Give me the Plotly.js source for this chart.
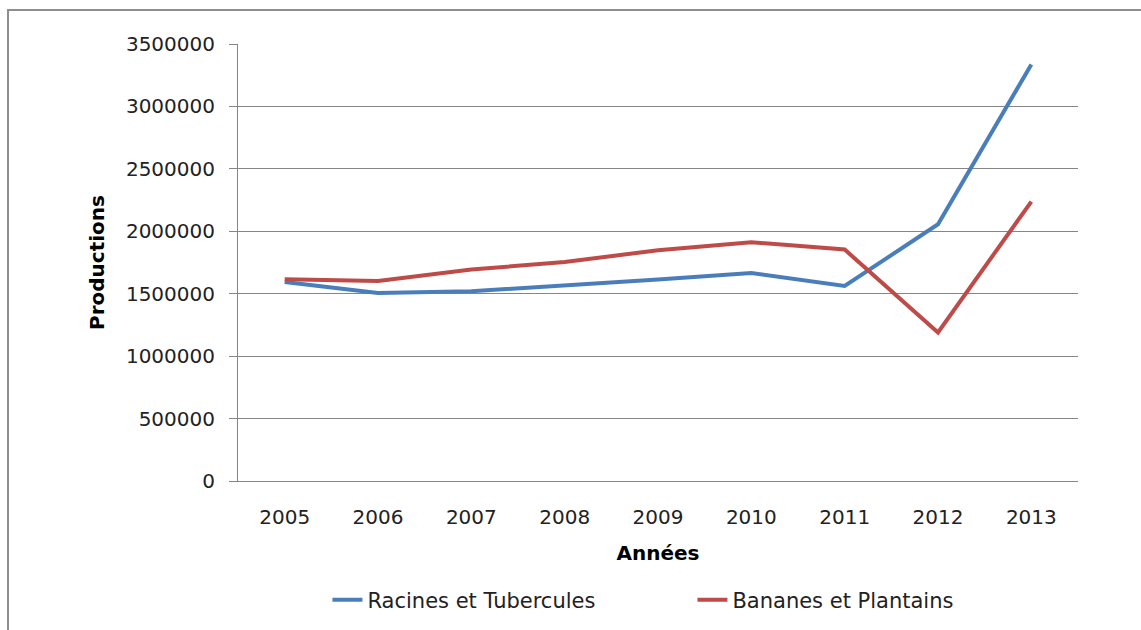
<!DOCTYPE html>
<html>
<head>
<meta charset="utf-8">
<script src="https://cdn.plot.ly/plotly-3.0.1.min.js"></script>
<style>
  html, body { margin: 0; padding: 0; background: #fff; }
  #wrap { position: relative; width: 1141px; height: 630px; }
  #plot { position: absolute; left: 0; top: 0; width: 1141px; height: 630px; }
  /* cadre gris du graphique Excel (haut et gauche seulement) */
  #cadre {
    position: absolute; left: 7px; top: 9px; width: 1140px; height: 630px;
    border-top: 2px solid #8e8e8e; border-left: 2px solid #8e8e8e;
    pointer-events: none;
  }
</style>
</head>
<body>
<div id="wrap">
  <div id="plot"></div>
  <div id="cadre"></div>
</div>
<script>
// données
const annees = ['2005', '2006', '2007', '2008', '2009', '2010', '2011', '2012', '2013'];
const racinesTubercules = [1594000, 1506000, 1520000, 1565000, 1614000, 1666000, 1562000, 2056000, 3336000];
const bananesPlantains = [1616000, 1602000, 1694000, 1754000, 1848000, 1912000, 1854000, 1190000, 2238000];
const ticksY = [0, 500000, 1000000, 1500000, 2000000, 2500000, 3000000, 3500000];

const police = 'DejaVu Sans, Verdana, sans-serif';
const gris = '#868686';

function initGraphique() {
    const trace1 = {
        type: 'scatter',
        mode: 'lines',
        x: annees,
        y: racinesTubercules,
        name: 'Racines et Tubercules',
        line: { color: '#4a7ebb', width: 4 }
    };

    const trace2 = {
        type: 'scatter',
        mode: 'lines',
        x: annees,
        y: bananesPlantains,
        name: 'Bananes et Plantains',
        line: { color: '#be4b48', width: 4 }
    };

    const layout = {
        width: 1141,
        height: 630,
        paper_bgcolor: 'rgba(0,0,0,0)',
        plot_bgcolor: '#ffffff',
        font: { family: police, size: 20, color: '#222' },
        margin: { l: 238, r: 63, t: 44, b: 149 },
        xaxis: {
            type: 'category',
            range: [-0.5, 8.5],
            showgrid: false,
            showline: true,
            linecolor: gris,
            linewidth: 1,
            ticks: '',
            ticklabelstandoff: 18,
            tickfont: { family: police, size: 20, color: '#222' },
            title: {
                text: 'Années',
                standoff: 17,
                font: { family: police, size: 20, color: '#000', weight: 'bold' }
            }
        },
        yaxis: {
            range: [0, 3500000],
            tickvals: ticksY,
            ticktext: ticksY.map(String),
            showgrid: true,
            gridcolor: gris,
            gridwidth: 1,
            zeroline: false,
            showline: true,
            linecolor: gris,
            linewidth: 1,
            ticks: 'outside',
            ticklen: 8,
            tickcolor: gris,
            ticklabelstandoff: 10,
            tickfont: { family: police, size: 20, color: '#222' },
            title: {
                text: 'Productions',
                standoff: 15,
                font: { family: police, size: 20, color: '#000', weight: 'bold' }
            }
        },
        showlegend: true,
        legend: {
            orientation: 'h',
            x: 0.541,
            xanchor: 'center',
            yref: 'container',
            y: 0.0476,
            yanchor: 'middle',
            font: { family: police, size: 21, color: '#222' },
            entrywidth: 320,
            itemwidth: 30,
            bgcolor: 'rgba(0,0,0,0)'
        },
        hovermode: false
    };

    const config = { displayModeBar: false, staticPlot: true };

    Plotly.newPlot('plot', [trace1, trace2], layout, config);
}

document.addEventListener('DOMContentLoaded', function() {
    initGraphique();
});
</script>
</body>
</html>
